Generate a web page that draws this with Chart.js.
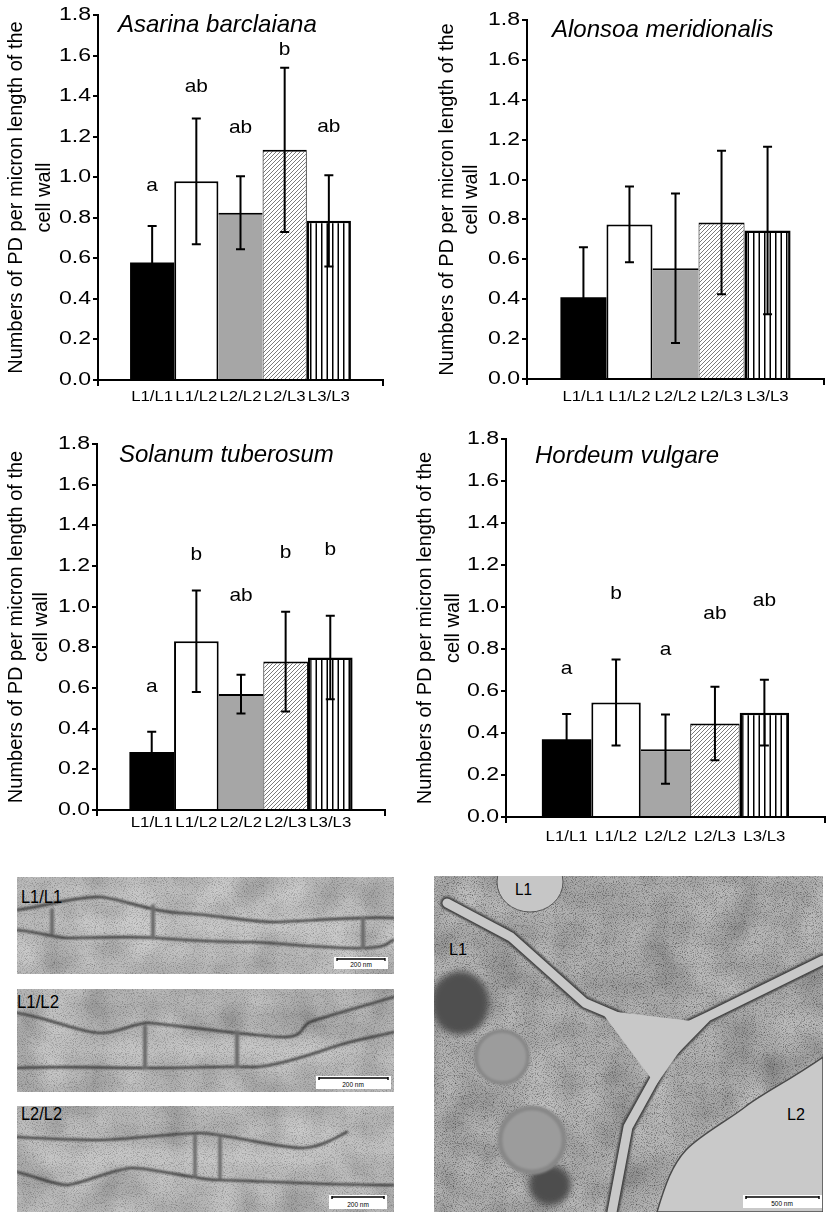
<!DOCTYPE html>
<html>
<head>
<meta charset="utf-8">
<script src="https://cdn.jsdelivr.net/npm/chart.js@4.4.1/dist/chart.umd.min.js"></script>
<style>
html,body{margin:0;padding:0;background:#fff;}
body{width:829px;height:1216px;position:relative;overflow:hidden;font-family:"Liberation Sans",Arial,sans-serif;}
.box{position:absolute;}
svg.mic{position:absolute;left:0;top:0;}
</style>
</head>
<body>
<div class="box" style="left:0;top:0;width:410px;height:420px"><canvas id="cA"></canvas></div>
<div class="box" style="left:410px;top:0;width:419px;height:420px"><canvas id="cB"></canvas></div>
<div class="box" style="left:0;top:420px;width:410px;height:420px"><canvas id="cC"></canvas></div>
<div class="box" style="left:410px;top:420px;width:419px;height:440px"><canvas id="cD"></canvas></div>

<svg class="mic" width="829" height="1216" viewBox="0 0 829 1216">
<defs>
  <filter id="speck" x="0" y="0" width="100%" height="100%">
    <feTurbulence type="fractalNoise" baseFrequency="0.9" numOctaves="2" seed="7"/>
    <feColorMatrix type="matrix" values="0 0 0 0 0  0 0 0 0 0  0 0 0 0 0  2.2 0 0 0 -1.05"/>
  </filter>
  <filter id="blotch" x="0" y="0" width="100%" height="100%">
    <feTurbulence type="fractalNoise" baseFrequency="0.025" numOctaves="2" seed="3"/>
    <feColorMatrix type="matrix" values="1 0 0 0 0  1 0 0 0 0  1 0 0 0 0  0 0 0 0 0.4"/>
  </filter>
  <filter id="soft"><feGaussianBlur stdDeviation="0.8"/></filter>
  <filter id="glow" x="-50%" y="-300%" width="200%" height="700%"><feGaussianBlur stdDeviation="6"/></filter>
  <filter id="softer" x="-50%" y="-50%" width="200%" height="200%"><feGaussianBlur stdDeviation="3"/></filter>
  <clipPath id="k1"><rect x="17" y="877" width="377" height="97"/></clipPath>
  <clipPath id="k2"><rect x="17" y="989" width="377" height="103"/></clipPath>
  <clipPath id="k3"><rect x="17" y="1106" width="377" height="106"/></clipPath>
  <clipPath id="k4"><rect x="434" y="876" width="389" height="336"/></clipPath>
</defs>

<!-- panel 1 -->
<g clip-path="url(#k1)">
  <rect x="17" y="877" width="377" height="97" fill="#b5b5b5"/>
  <rect x="17" y="877" width="377" height="97" filter="url(#blotch)"/>
  <ellipse cx="210" cy="925" rx="170" ry="9" fill="#d2d2d2" opacity="0.7" filter="url(#glow)"/>
  <rect x="17" y="877" width="377" height="97" filter="url(#speck)" opacity="0.35"/>
  <g filter="url(#soft)" fill="none" stroke-linecap="round" stroke-linejoin="round">
    <path d="M17,910 C50,905 80,896 100,897 S150,912 180,913 S250,922 273,922 S360,916 394,918" stroke="#2f2f2f" stroke-width="2.2"/>
    <path d="M17,930 C40,932 55,938 67,938 S130,936 157,938 S230,942 250,942 S340,950 367,948 S385,942 394,940" stroke="#2f2f2f" stroke-width="2.2"/>
    <path d="M52,910 L52,933 M153,906 L153,938 M363,918 L363,947" stroke="#6a6a6a" stroke-width="4"/>
  </g>
  <text x="21" y="903" font-size="18" textLength="41" lengthAdjust="spacingAndGlyphs" fill="#000">L1/L1</text>
  <rect x="334" y="957" width="54" height="12" fill="#fff"/>
  <path d="M337,959 L385,959 M337,958 L337,961 M385,958 L385,961" stroke="#000" stroke-width="1.3" fill="none"/>
  <text x="361" y="967" font-size="6.5" text-anchor="middle" fill="#000">200 nm</text>
</g>

<!-- panel 2 -->
<g clip-path="url(#k2)">
  <rect x="17" y="989" width="377" height="103" fill="#afafaf"/>
  <rect x="17" y="989" width="377" height="103" filter="url(#blotch)"/>
  <ellipse cx="200" cy="1048" rx="170" ry="10" fill="#cccccc" opacity="0.6" filter="url(#glow)"/>
  <rect x="17" y="989" width="377" height="103" filter="url(#speck)" opacity="0.35"/>
  <g filter="url(#soft)" fill="none" stroke-linecap="round" stroke-linejoin="round">
    <path d="M17,1013 C50,1018 80,1033 100,1033 S135,1022 150,1023 S260,1037 283,1037 S300,1026 310,1022 S370,1004 394,997" stroke="#2f2f2f" stroke-width="2.2"/>
    <path d="M17,1068 C60,1066 110,1068 150,1068 S230,1066 250,1067 S310,1055 333,1047 S380,1036 394,1032" stroke="#2f2f2f" stroke-width="2.2"/>
    <path d="M145,1027 L145,1068 M237,1032 L237,1067" stroke="#6a6a6a" stroke-width="4"/>
  </g>
  <text x="17" y="1008" font-size="18" textLength="42" lengthAdjust="spacingAndGlyphs" fill="#000">L1/L2</text>
  <rect x="316" y="1076" width="75" height="13" fill="#fff"/>
  <path d="M319,1078 L388,1078 M319,1077 L319,1080 M388,1077 L388,1080" stroke="#000" stroke-width="1.5" fill="none"/>
  <text x="353" y="1087" font-size="6.5" text-anchor="middle" fill="#000">200 nm</text>
</g>

<!-- panel 3 -->
<g clip-path="url(#k3)">
  <rect x="17" y="1106" width="377" height="106" fill="#b2b2b2"/>
  <rect x="17" y="1106" width="377" height="106" filter="url(#blotch)"/>
  <ellipse cx="190" cy="1158" rx="160" ry="10" fill="#d0d0d0" opacity="0.7" filter="url(#glow)"/>
  <rect x="17" y="1106" width="377" height="106" filter="url(#speck)" opacity="0.35"/>
  <g filter="url(#soft)" fill="none" stroke-linecap="round" stroke-linejoin="round">
    <path d="M17,1137 C50,1139 80,1140 100,1140 S180,1133 200,1133 S280,1148 300,1148 S335,1138 347,1132" stroke="#2f2f2f" stroke-width="2.2"/>
    <path d="M17,1172 C40,1178 55,1185 67,1185 S115,1168 133,1168 S200,1180 217,1180 S350,1186 394,1185" stroke="#2f2f2f" stroke-width="2.2"/>
    <path d="M195,1136 L195,1176 M220,1138 L220,1178" stroke="#6a6a6a" stroke-width="3.5"/>
  </g>
  <text x="21" y="1120" font-size="18" textLength="41" lengthAdjust="spacingAndGlyphs" fill="#000">L2/L2</text>
  <rect x="329" y="1195" width="58" height="14" fill="#fff"/>
  <path d="M332,1197 L384,1197 M332,1196 L332,1199 M384,1196 L384,1199" stroke="#000" stroke-width="1.5" fill="none"/>
  <text x="358" y="1207" font-size="6.5" text-anchor="middle" fill="#000">200 nm</text>
</g>

<!-- panel 4 -->
<g clip-path="url(#k4)">
  <rect x="434" y="876" width="389" height="336" fill="#a2a2a2"/>
  <rect x="434" y="876" width="389" height="336" filter="url(#blotch)"/>
  <rect x="434" y="876" width="389" height="336" filter="url(#speck)" opacity="0.55"/>
  <path d="M823,1057 C790,1080 760,1095 745,1107 S700,1135 686,1150 S665,1185 657,1212 L823,1212 Z" fill="#c9c9c9" stroke="#4a4a4a" stroke-width="1.5"/>
  <ellipse cx="530" cy="882" rx="33" ry="30" fill="#c6c6c6" stroke="#555" stroke-width="1"/>
  <ellipse cx="460" cy="1003" rx="29" ry="32" fill="#505050" filter="url(#softer)"/>
  <ellipse cx="550" cy="1185" rx="21" ry="20" fill="#4d4d4d" filter="url(#softer)"/>
  <circle cx="502" cy="1057" r="26" fill="#9c9c9c" stroke="#888" stroke-width="4" filter="url(#soft)"/>
  <circle cx="532" cy="1140" r="32" fill="#9c9c9c" stroke="#888" stroke-width="5" filter="url(#soft)"/>
  <g fill="none" stroke-linecap="round" stroke-linejoin="round">
    <path d="M447,903 L511,937 L585,1003 L665,1037 L707,1017 L823,960 M707,1017 L665,1060 L628,1127 L612,1212" stroke="#3d3d3d" stroke-width="13" filter="url(#soft)"/>
    <path d="M447,903 L511,937 L585,1003 L665,1037 L707,1017 L823,960 M707,1017 L665,1060 L628,1127 L612,1212" stroke="#c8c8c8" stroke-width="9"/>
  </g>
  <path d="M600,1010 L700,1022 L656,1085 Z" fill="#c8c8c8"/>
  <text x="515" y="895" font-size="17" textLength="17" lengthAdjust="spacingAndGlyphs" fill="#000">L1</text>
  <text x="449" y="955" font-size="17" textLength="18" lengthAdjust="spacingAndGlyphs" fill="#000">L1</text>
  <text x="787" y="1120" font-size="17" textLength="18" lengthAdjust="spacingAndGlyphs" fill="#000">L2</text>
  <rect x="743" y="1195" width="79" height="13" fill="#fff"/>
  <path d="M746,1197 L819,1197 M746,1196 L746,1199 M819,1196 L819,1199" stroke="#000" stroke-width="1.5" fill="none"/>
  <text x="782" y="1206" font-size="6.5" text-anchor="middle" fill="#000">500 nm</text>
</g>
</svg>

<script>
// ---------------- data ----------------
const categories = ['L1/L1', 'L1/L2', 'L2/L2', 'L2/L3', 'L3/L3'];
const yTickValues = [0, 0.2, 0.4, 0.6, 0.8, 1.0, 1.2, 1.4, 1.6, 1.8];
const yTickLabels = ['0.0', '0.2', '0.4', '0.6', '0.8', '1.0', '1.2', '1.4', '1.6', '1.8'];
const yAxisTitle = ['Numbers of PD per micron length of the', 'cell wall'];

const asarinaMean = [0.58, 0.98, 0.825, 1.135, 0.785];
const asarinaErr = [0.18, 0.31, 0.18, 0.405, 0.225];
const asarinaLetters = ['a', 'ab', 'ab', 'b', 'ab'];
const asarinaLetterY = [0.96, 1.445, 1.243, 1.627, 1.248];

const alonsoaMean = [0.41, 0.775, 0.555, 0.785, 0.745];
const alonsoaErr = [0.25, 0.19, 0.375, 0.36, 0.42];
const alonsoaLetters = ['', '', '', '', ''];
const alonsoaLetterY = [0, 0, 0, 0, 0];

const solanumMean = [0.285, 0.83, 0.57, 0.73, 0.75];
const solanumErr = [0.10, 0.25, 0.095, 0.245, 0.205];
const solanumLetters = ['a', 'b', 'ab', 'b', 'b'];
const solanumLetterY = [0.607, 1.254, 1.054, 1.266, 1.282];

const hordeumMean = [0.37, 0.545, 0.323, 0.445, 0.497];
const hordeumErr = [0.12, 0.205, 0.165, 0.175, 0.157];
const hordeumLetters = ['a', 'b', 'a', 'ab', 'ab'];
const hordeumLetterY = [0.708, 1.065, 0.795, 0.97, 1.03];

// ---------------- styles ----------------
const FONT = "'Liberation Sans', Arial, Helvetica, sans-serif";

function hatchPattern() {
  const c = document.createElement('canvas'); c.width = 4; c.height = 4;
  const g = c.getContext('2d');
  g.fillStyle = '#fff'; g.fillRect(0, 0, 4, 4);
  g.strokeStyle = '#7a7a7a'; g.lineWidth = 1;
  g.beginPath();
  g.moveTo(0, 4); g.lineTo(4, 0);
  g.moveTo(-1, 1); g.lineTo(1, -1);
  g.moveTo(3, 5); g.lineTo(5, 3);
  g.stroke();
  return g.createPattern(c, 'repeat');
}
function stripePattern() {
  const c = document.createElement('canvas'); c.width = 11; c.height = 4;
  const g = c.getContext('2d');
  g.fillStyle = '#fff'; g.fillRect(0, 0, 11, 4);
  g.fillStyle = '#000';
  g.fillRect(2, 0, 1.5, 4);
  g.fillRect(7.5, 0, 1.5, 4);
  return g.createPattern(c, 'repeat');
}
const fills = ['#000000', '#ffffff', '#a6a6a6', hatchPattern(), stripePattern()];
const borders = [0, 2, {top: 2, left: 0, right: 0, bottom: 0}, {top: 2, left: 1, right: 1, bottom: 0}, 2.5];

function stretchedText(ctx, txt, x, y, sx, align) {
  ctx.save();
  ctx.translate(x, y);
  ctx.scale(sx, 1);
  ctx.textAlign = align;
  ctx.fillText(txt, 0, 0);
  ctx.restore();
}

function overlay(spec) {
  return {
    id: 'overlay',
    afterDraw(chart) {
      const ctx = chart.ctx, ys = chart.scales.y, area = chart.chartArea;
      ctx.save();
      // error bars
      ctx.strokeStyle = '#000'; ctx.lineWidth = 2; ctx.lineCap = 'butt';
      spec.means.forEach((m, i) => {
        const bar = chart.getDatasetMeta(i).data[0];
        const x = bar.x;
        const t = ys.getPixelForValue(m + spec.errs[i]);
        const b = ys.getPixelForValue(Math.max(0, m - spec.errs[i]));
        ctx.beginPath();
        ctx.moveTo(x, t); ctx.lineTo(x, b);
        ctx.moveTo(x - 4.5, t); ctx.lineTo(x + 4.5, t);
        ctx.moveTo(x - 4.5, b); ctx.lineTo(x + 4.5, b);
        ctx.stroke();
      });
      ctx.fillStyle = '#000';
      ctx.textBaseline = 'middle';
      // y tick labels (wide lettering as in the original)
      ctx.font = '18px ' + FONT;
      yTickValues.forEach((v, i) => {
        stretchedText(ctx, yTickLabels[i], area.left - 7, ys.getPixelForValue(v), 1.28, 'right');
      });
      // significance letters
      ctx.font = '19px ' + FONT;
      spec.letters.forEach((L, i) => {
        if (!L) return;
        const bar = chart.getDatasetMeta(i).data[0];
        stretchedText(ctx, L, bar.x, ys.getPixelForValue(spec.letterY[i]), 1.1, 'center');
      });
      // category labels under each bar
      ctx.font = '15px ' + FONT;
      chart.data.datasets.forEach((ds, i) => {
        const bar = chart.getDatasetMeta(i).data[0];
        stretchedText(ctx, ds.label, bar.x, area.bottom + spec.labelDy, 1.12, 'center');
      });
      // species name
      ctx.font = 'italic 24px ' + FONT;
      stretchedText(ctx, spec.species, area.left + spec.dx, area.top + spec.dy, 1.0, 'left');
      ctx.restore();
    }
  };
}

function makeChart(id, spec) {
  const datasets = categories.map((c, i) => ({
    label: c,
    data: [spec.means[i]],
    backgroundColor: fills[i],
    borderColor: '#000',
    borderWidth: borders[i],
    borderSkipped: 'start',
    categoryPercentage: 0.775,
    barPercentage: 1.0
  }));
  return new Chart(document.getElementById(id), {
    type: 'bar',
    data: {labels: [''], datasets},
    options: {
      responsive: true,
      maintainAspectRatio: false,
      animation: false,
      events: [],
      layout: {padding: {top: spec.padTop, right: spec.padRight, left: 0, bottom: 0}},
      plugins: {legend: {display: false}, tooltip: {enabled: false}, title: {display: false}},
      scales: {
        x: {
          type: 'category', offset: true, z: 1,
          ticks: {display: false},
          grid: {offset: true, drawOnChartArea: false, drawTicks: true, tickLength: 6, color: '#000', lineWidth: 2},
          border: {display: true, color: '#000', width: 2},
          afterFit(s) { s.height = spec.xH; }
        },
        y: {
          min: 0, max: 1.8, z: 1,
          afterBuildTicks(s) { s.ticks = yTickValues.map(v => ({value: v})); },
          ticks: {display: false},
          grid: {drawOnChartArea: false, drawTicks: true, tickLength: 5, color: '#000', lineWidth: 2},
          border: {display: true, color: '#000', width: 2},
          title: {display: true, text: yAxisTitle, color: '#000',
                  font: {size: 20, family: FONT, lineHeight: spec.titleLH},
                  padding: {top: spec.titlePad, bottom: 0}},
          afterFit(s) { s.width = spec.yW; }
        }
      }
    },
    plugins: [overlay(spec)]
  });
}

makeChart('cA', {means: asarinaMean, errs: asarinaErr, letters: asarinaLetters, letterY: asarinaLetterY,
  species: 'Asarina barclaiana', dx: 20, dy: 10, labelDy: 17,
  padTop: 15, padRight: 27, xH: 40, yW: 98, titleLH: 1.43, titlePad: 2});
makeChart('cB', {means: alonsoaMean, errs: alonsoaErr, letters: alonsoaLetters, letterY: alonsoaLetterY,
  species: 'Alonsoa meridionalis', dx: 25, dy: 10, labelDy: 17.5,
  padTop: 20, padRight: 5, xH: 41, yW: 117, titleLH: 1.18, titlePad: 25.7});
makeChart('cC', {means: solanumMean, errs: solanumErr, letters: solanumLetters, letterY: solanumLetterY,
  species: 'Solanum tuberosum', dx: 22, dy: 11, labelDy: 13,
  padTop: 24, padRight: 25, xH: 30, yW: 97, titleLH: 1.28, titlePad: 3.2});
makeChart('cD', {means: hordeumMean, errs: hordeumErr, letters: hordeumLetters, letterY: hordeumLetterY,
  species: 'Hordeum vulgare', dx: 29, dy: 17, labelDy: 20,
  padTop: 19, padRight: 4, xH: 43, yW: 96, titleLH: 1.4, titlePad: 1.5});
</script>
</body>
</html>
